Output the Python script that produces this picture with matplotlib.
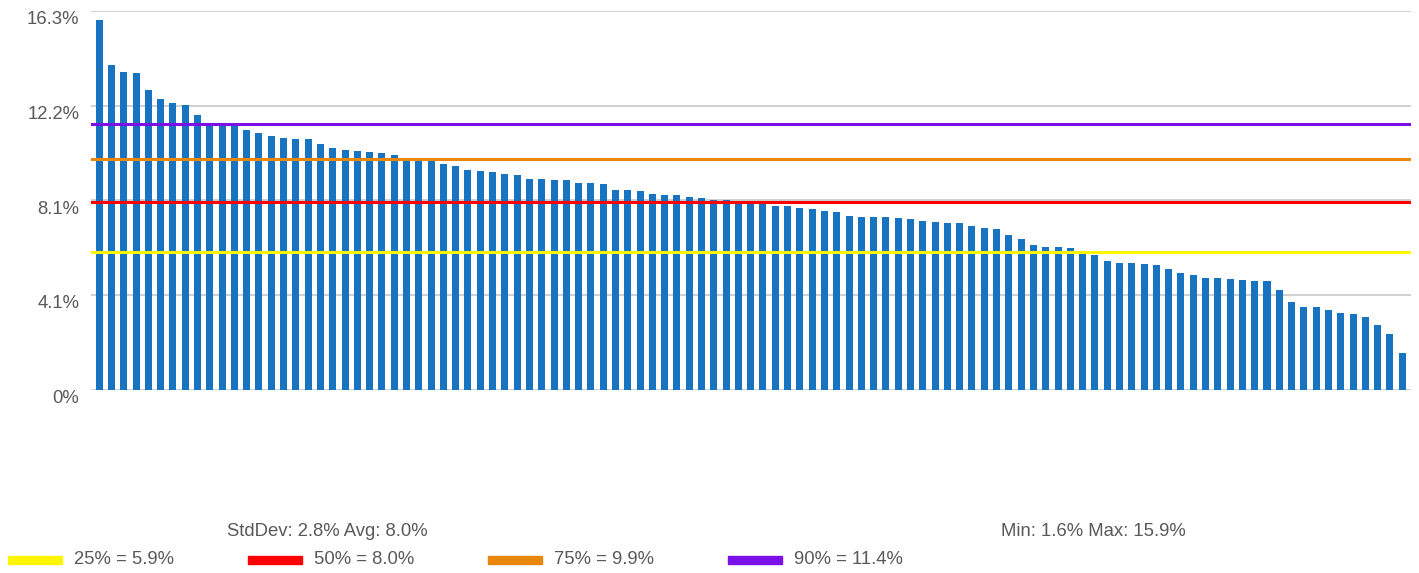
import matplotlib
matplotlib.use('Agg')
import matplotlib.pyplot as plt
from matplotlib.patches import Rectangle
import numpy as np

plt.rcParams['font.family'] = ['Liberation Sans', 'DejaVu Sans']

# bar values (%), sorted descending
values = [
    15.9, 13.98, 13.68, 13.63, 12.90, 12.52, 12.35, 12.26, 11.83, 11.45,
    11.45, 11.45, 11.18, 11.05, 10.92, 10.84, 10.80, 10.80, 10.58, 10.41,
    10.32, 10.28, 10.24, 10.19, 10.11, 9.90, 9.88,
    9.86, 9.72, 9.63, 9.46, 9.42, 9.38, 9.29, 9.25, 9.08, 9.08,
    9.03, 9.03, 8.90, 8.90, 8.86, 8.60, 8.60, 8.56, 8.43, 8.39,
    8.39, 8.30, 8.26, 8.17, 8.17, 8.10,
    8.05, 8.03, 7.91, 7.91, 7.83, 7.78, 7.69, 7.65, 7.48, 7.44,
    7.44, 7.44, 7.40, 7.35, 7.27, 7.23, 7.18, 7.18, 7.05, 6.97,
    6.92, 6.67, 6.50, 6.24, 6.15, 6.15, 6.11,
    5.85, 5.81, 5.55, 5.46, 5.46, 5.42, 5.38, 5.20, 5.03, 4.95,
    4.82, 4.82, 4.77, 4.73, 4.69, 4.69, 4.30, 3.78, 3.57, 3.57,
    3.44, 3.31, 3.27, 3.14, 2.80, 2.41, 1.59,
]

# percentile reference lines
pct_values = [5.95, 8.07, 9.92, 11.46]
pct_labels = ['25% = 5.9%', '50% = 8.0%', '75% = 9.9%', '90% = 11.4%']
pct_colors = ['#FFF500', '#FF0000', '#E8870B', '#7B10E8']

y_ticks = [0, 4.075, 8.15, 12.225, 16.3]
y_labels = ['0%', '4.1%', '8.1%', '12.2%', '16.3%']

stats_left = 'StdDev: 2.8% Avg: 8.0%'
stats_right = 'Min: 1.6% Max: 15.9%'

W, H = 1419, 573
text_color = '#595959'
fsize = 13.3

fig = plt.figure(figsize=(W / 100, H / 100), dpi=100)
ax = fig.add_axes([90.7 / W, (H - 390) / H, (1410.7 - 90.7) / W, (390 - 11) / H])

x = np.arange(len(values))
ax.bar(x, values, width=0.57, color='#1874C1', zorder=2)

for v, c in zip(pct_values, pct_colors):
    ax.axhline(v, color=c, linewidth=2.2, zorder=3)

ax.set_xlim(-0.69, len(values) - 1 + 0.69)
ax.set_ylim(0, 16.3)
ax.set_yticks(y_ticks)
ax.set_yticklabels(y_labels)
ax.set_xticks([])
ax.tick_params(axis='y', length=0, pad=8.3, labelsize=fsize, labelcolor=text_color)
for t in ax.get_yticklabels():
    t.set_va('top')
ax.grid(axis='y', color='#CFCFCF', linewidth=1.4, zorder=1)
ax.set_axisbelow(True)
for s in ax.spines.values():
    s.set_visible(False)

# stats text under the chart
fig.text(327 / W, 1 - 531 / H, stats_left, ha='center', va='center',
         fontsize=fsize, color=text_color)
fig.text(1093 / W, 1 - 531 / H, stats_right, ha='center', va='center',
         fontsize=fsize, color=text_color)

# legend row
for i, (lab, c) in enumerate(zip(pct_labels, pct_colors)):
    x0 = 8 + i * 240
    fig.add_artist(Rectangle((x0 / W, 1 - 564 / H), 54 / W, 8 / H,
                             transform=fig.transFigure, color=c))
    fig.text((x0 + 66) / W, 1 - 560 / H, lab, ha='left', va='center',
             fontsize=fsize, color=text_color)

fig.savefig('out.png', dpi=100)
